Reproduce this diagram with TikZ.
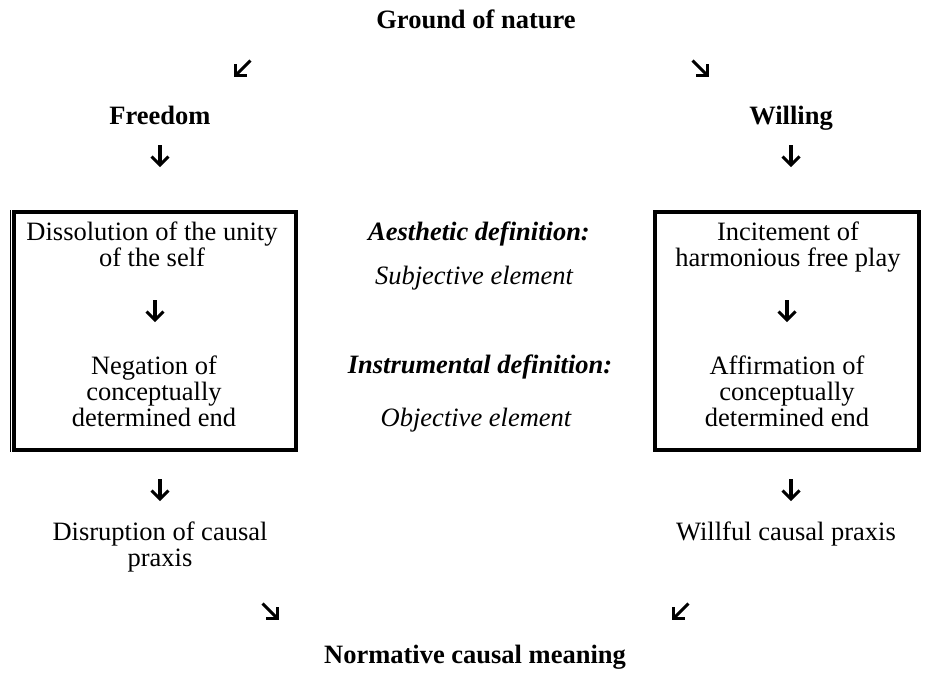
\documentclass[tikz,border=0pt]{standalone}
\usepackage{fontspec}
\setmainfont{Liberation Serif}
\newcommand{\bodysize}{\fontsize{26.5}{26}\selectfont}
\begin{document}
\begin{tikzpicture}[x=1pt,y=-1pt,
  txt/.style={inner sep=0pt, align=center, anchor=base, font=\bodysize},
  hdr/.style={txt, font=\bodysize\bfseries},
  defn/.style={txt, font=\bodysize\bfseries\itshape},
  elem/.style={txt, font=\bodysize\itshape},
  frame/.style={line width=4pt, line join=miter},
  arrstroke/.style={line width=3.1pt, line cap=butt, line join=miter},
  pics/arr/.style n args={2}{code={
    \draw[arrstroke] (0,-#1) -- (0,#1);
    \draw[arrstroke] (-#2,#1-#2) -- (0,#1) -- (#2,#1-#2);}}
]
\useasboundingbox (0,0) rectangle (928,675);

% top and bottom headings
\node[hdr] (ground) at (476,28) {Ground of nature};
\node[hdr] (normative) at (475,663) {Normative causal meaning};

% column headings
\node[hdr] (freedom) at (160,124) {Freedom};
\node[hdr] (willing) at (791,124) {Willing};

% diagonal arrows
\pic[rotate=-45] (dl1) at (243,68) {arr={10.5}{8}};
\pic[rotate=45]  (dr1) at (700,68) {arr={10.5}{8}};
\pic[rotate=45]  (dr2) at (270,611) {arr={10.5}{8}};
\pic[rotate=-45] (dl2) at (681,611) {arr={10.5}{8}};

% down arrows
\pic (dn1) at (160,155) {arr={10}{8.5}};
\pic (dn2) at (791,155) {arr={10}{8.5}};
\pic (dn3) at (155,310) {arr={10}{8.5}};
\pic (dn4) at (787,310) {arr={10}{8.5}};
\pic (dn5) at (160,489) {arr={10}{8.5}};
\pic (dn6) at (791,489) {arr={10}{8.5}};

% left frame
\draw[frame] (14,212) rectangle (296,450);
\draw[line width=1.2pt] (10.5,210) -- (10.5,452);
% right frame
\draw[frame] (655,212) rectangle (919,450);

% framed texts (base anchor sits on the last line)
\node[txt] (dissolution) at (152,266) {Dissolution of the unity\\of the self};
\node[txt] (negation) at (154,426) {Negation of\\conceptually\\determined end};
\node[txt] (incitement) at (788,266) {Incitement of\\harmonious free play};
\node[txt] (affirmation) at (787,426) {Affirmation of\\conceptually\\determined end};

% middle column
\node[defn] (aesthetic) at (479,240) {Aesthetic definition:};
\node[elem] (subjective) at (474,284) {Subjective element};
\node[defn] (instrumental) at (480,373) {Instrumental definition:};
\node[elem] (objective) at (476,426) {Objective element};

% outcomes
\node[txt] (disruption) at (160,566) {Disruption of causal\\praxis};
\node[txt] (willful) at (786,540) {Willful causal praxis};
\end{tikzpicture}
\end{document}
